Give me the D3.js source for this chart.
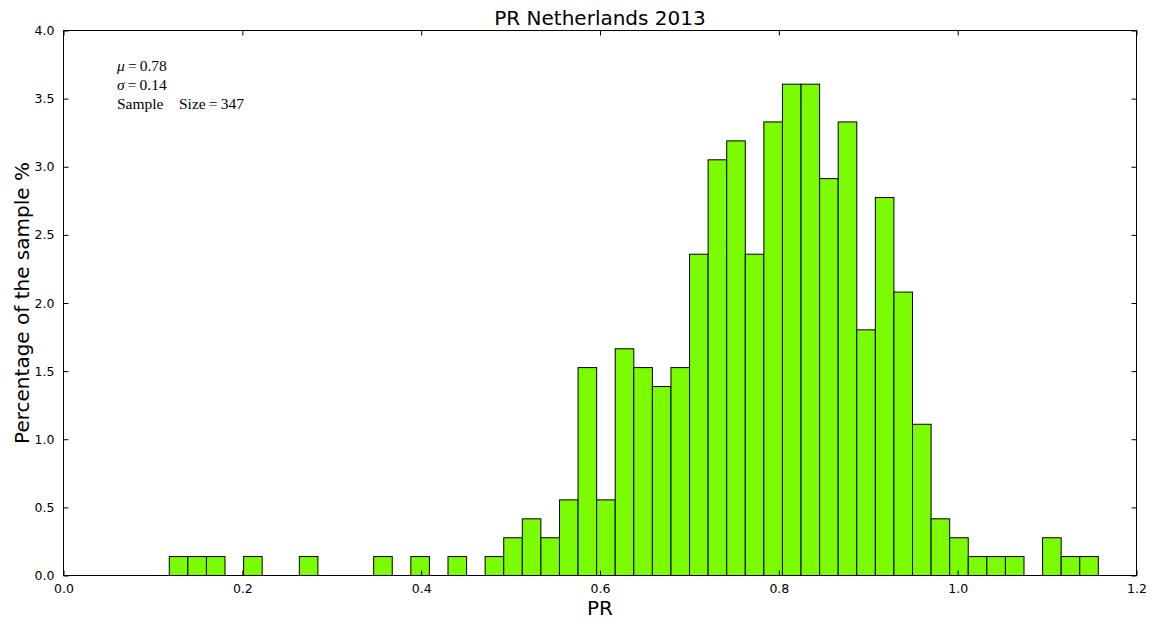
<!DOCTYPE html>
<html>
<head>
<meta charset="utf-8">
<script src="https://cdn.jsdelivr.net/npm/d3@7"></script>
<style>
  body { margin: 0; background: #fff; }
  svg { display: block; }
  text { font-family: "DejaVu Sans", sans-serif; fill: #000; }
  text.ann { font-family: "Liberation Serif", "DejaVu Serif", serif; font-size: 15.5px; }
</style>
</head>
<body>
<svg id="chart" width="1153" height="619"></svg>
<script>
// ---- data ----
const binStart = 0.1183;          // left edge of the first bin
const binWidth = 0.02078;         // width of each bin
const binHeights = [
  0.139, 0.139, 0.139, 0, 0.139, 0, 0, 0.139, 0, 0,
  0, 0.139, 0, 0.139, 0, 0.139, 0, 0.139, 0.277, 0.416,
  0.277, 0.555, 1.526, 0.555, 1.664, 1.526, 1.387, 1.526, 2.358, 3.051,
  3.190, 2.358, 3.329, 3.606, 3.606, 2.913, 3.329, 1.803, 2.774, 2.080,
  1.110, 0.416, 0.277, 0.139, 0.139, 0.139, 0, 0.277, 0.139, 0.139
];
const xTicks = [0.0, 0.2, 0.4, 0.6, 0.8, 1.0, 1.2];
const yTicks = [0.0, 0.5, 1.0, 1.5, 2.0, 2.5, 3.0, 3.5, 4.0];
const title = "PR Netherlands 2013";
const xLabel = "PR";
const yLabel = "Percentage of the sample %";
const statsMu = "0.78", statsSigma = "0.14", statsN = "347";

// ---- layout ----
const svg = d3.select("#chart");
const m = { left: 63.5, right: 1136.5, top: 30.5, bottom: 575.5 };
const x = d3.scaleLinear().domain([0, 1.2]).range([m.left, m.right]);
const y = d3.scaleLinear().domain([0, 4.0]).range([m.bottom, m.top]);

const bins = binHeights.map((h, i) => ({ x0: binStart + i * binWidth, x1: binStart + (i + 1) * binWidth, h }));

svg.append("g").selectAll("rect")
  .data(bins.filter(d => d.h > 0))
  .join("rect")
  .attr("x", d => x(d.x0))
  .attr("width", d => x(d.x1) - x(d.x0))
  .attr("y", d => y(d.h))
  .attr("height", d => y(0) - y(d.h))
  .attr("fill", "#7cfc00")
  .attr("stroke", "#000")
  .attr("stroke-width", 1);

// frame
svg.append("rect")
  .attr("x", m.left).attr("y", m.top)
  .attr("width", m.right - m.left).attr("height", m.bottom - m.top)
  .attr("fill", "none").attr("stroke", "#000").attr("stroke-width", 1);

// axes (ticks inside, mirrored)
const tl = 5;
const fmt = d3.format(".1f");
const xb = svg.append("g").attr("transform", `translate(0,${m.bottom})`)
  .call(d3.axisBottom(x).tickValues(xTicks).tickFormat(fmt).tickSizeInner(-tl).tickSizeOuter(0).tickPadding(9));
const xt = svg.append("g").attr("transform", `translate(0,${m.top})`)
  .call(d3.axisTop(x).tickValues(xTicks).tickFormat("").tickSizeInner(-tl).tickSizeOuter(0));
const yl = svg.append("g").attr("transform", `translate(${m.left},0)`)
  .call(d3.axisLeft(y).tickValues(yTicks).tickFormat(fmt).tickSizeInner(-tl).tickSizeOuter(0).tickPadding(9));
const yr = svg.append("g").attr("transform", `translate(${m.right},0)`)
  .call(d3.axisRight(y).tickValues(yTicks).tickFormat("").tickSizeInner(-tl).tickSizeOuter(0));
[xb, xt, yl, yr].forEach(g => {
  g.select(".domain").remove();
  g.selectAll("line").attr("stroke", "#000");
  g.selectAll("text").style("font-family", "DejaVu Sans, sans-serif").style("font-size", "12.5px").attr("fill", "#000");
});

// titles
svg.append("text").attr("x", (m.left + m.right) / 2).attr("y", 25)
  .attr("text-anchor", "middle").style("font-size", "20px").text(title);
svg.append("text").attr("x", (m.left + m.right) / 2).attr("y", 615)
  .attr("text-anchor", "middle").style("font-size", "20px").text(xLabel);
svg.append("text")
  .attr("transform", `translate(29,${(m.top + m.bottom) / 2}) rotate(-90)`)
  .attr("text-anchor", "middle").style("font-size", "20px").text(yLabel);

// stats annotation
const line1 = svg.append("text").attr("class", "ann").attr("x", 117).attr("y", 71);
line1.append("tspan").style("font-style", "italic").text("μ");
line1.append("tspan").text("\u2009=\u2009" + statsMu);
const line2 = svg.append("text").attr("class", "ann").attr("x", 117).attr("y", 90);
line2.append("tspan").style("font-style", "italic").text("σ");
line2.append("tspan").text("\u2009=\u2009" + statsSigma);
svg.append("text").attr("class", "ann").attr("x", 117).attr("y", 109)
  .text("Sample\u2002\u2002Size\u2009=\u2009" + statsN);
</script>
</body>
</html>
